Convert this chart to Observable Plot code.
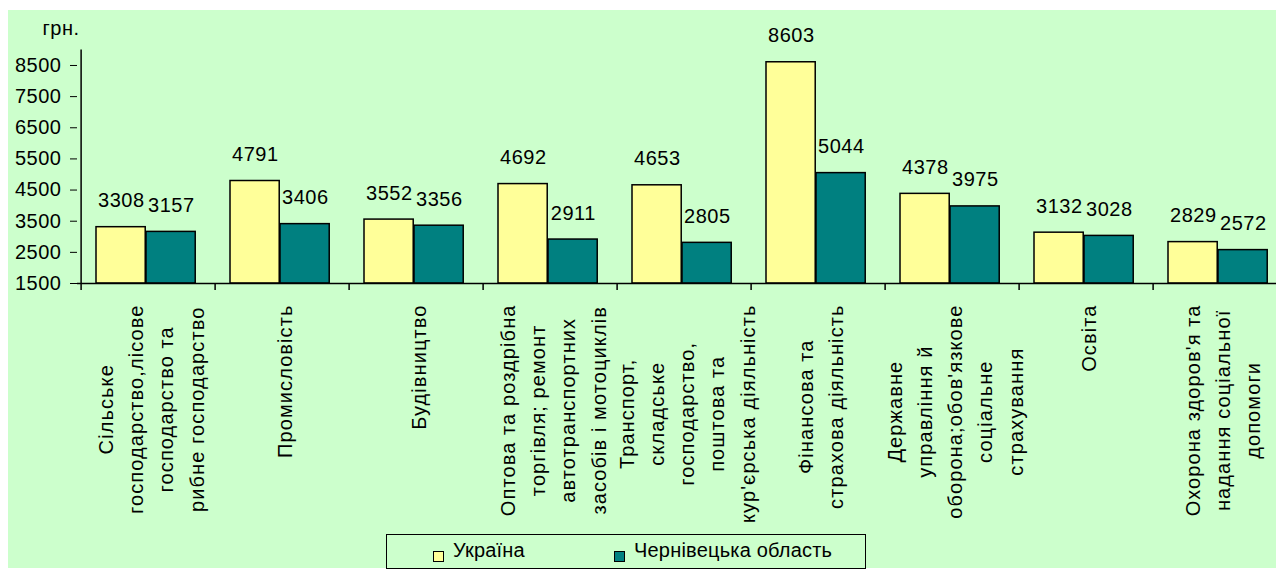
<!DOCTYPE html>
<html>
<head>
<meta charset="utf-8">
<script src="https://cdn.jsdelivr.net/npm/d3@7"></script>
<script src="https://cdn.jsdelivr.net/npm/@observablehq/plot@0.6"></script>
<style>
  html, body { margin: 0; padding: 0; background: #ffffff; }
  body { width: 1276px; height: 572px; overflow: hidden; position: relative; font-family: "Liberation Sans", Arial, sans-serif; }
  #bg { position: absolute; left: 8px; top: 10px; width: 1268px; height: 558px; background: #CCFFCC; }
  #chart { position: absolute; left: 0; top: 0; }
  #chart text { letter-spacing: 0.5px; }
  #chart text[transform*="rotate"] { letter-spacing: 1.1px; }
  #legend { position: absolute; left: 386px; top: 534px; width: 478px; height: 33px; border: 1.5px solid #000; background: #CCFFCC; }
  .sw { position: absolute; top: 16px; width: 9px; height: 9px; border: 1.5px solid #000; }
  .lt { position: absolute; top: 5px; font-size: 20px; line-height: 20px; color: #000; white-space: nowrap; letter-spacing: 0.2px; }
</style>
</head>
<body>
<div id="bg"></div>
<div id="chart"></div>
<div id="legend"></div>
<script>
// ---- data ----
const categories = [
  "Сільське господарство", "Промисловість", "Будівництво", "Торгівля",
  "Транспорт", "Фінанси", "Державне управління", "Освіта", "Охорона здоров'я"
];
const categoryLabels = [
  ["Сільське", "господарство,лісове", "господарство та", "рибне господарство"],
  ["Промисловість"],
  ["Будівництво"],
  ["Оптова та роздрібна", "торгівля; ремонт", "автотранспортних", "засобів і мотоциклів"],
  ["Транспорт,", "складське", "господарство,", "поштова та", "кур'єрська діяльність"],
  ["Фінансова та", "страхова діяльність"],
  ["Державне", "управління й", "оборона;обов'язкове", "соціальне", "страхування"],
  ["Освіта"],
  ["Охорона здоров'я та", "надання соціальної", "допомоги"]
];
const seriesNames = ["Україна", "Чернівецька область"];
const ukraine    = [3308, 4791, 3552, 4692, 4653, 8603, 4378, 3132, 2829];
const chernivtsi = [3157, 3406, 3356, 2911, 2805, 5044, 3975, 3028, 2572];
const yTicks = [1500, 2500, 3500, 4500, 5500, 6500, 7500, 8500];
const yDomain = [1500, 9000];
const unitLabel = "грн.";
const colors = ["#FFFF99", "#008080"];

// ---- table ----
const rows = categories.map((c, i) => ({category: c, ua: ukraine[i], cv: chernivtsi[i], label: categoryLabels[i]}));

// ---- layout ----
const W = 1276, H = 530;
const xStart = 77, xEnd = 1290;
const bw = (xEnd - xStart) / categories.length;
const axisY = 283;
const FONT = "20px 'Liberation Sans', Arial, sans-serif";
const LS = 1.1;

const ctx = document.createElement("canvas").getContext("2d");
ctx.font = FONT;
const maxLen = lines => Math.max(...lines.map(s => ctx.measureText(s).width + LS * s.length));

const labelMarks = rows.map(r => Plot.text([r], {
  x: "category",
  frameAnchor: "bottom",
  text: d => d.label.join("\n"),
  rotate: -90,
  textAnchor: "middle",
  lineAnchor: "middle",
  lineHeight: 1.515,
  fontSize: 20,
  fill: "#000",
  dy: 21 + maxLen(r.label) / 2
}));

const plot = Plot.plot({
  width: W,
  height: H,
  marginLeft: xStart,
  marginRight: 0,
  marginTop: 49.4,
  marginBottom: H - axisY,
  style: {background: "transparent", fontFamily: "'Liberation Sans', Arial, sans-serif", fontSize: "20px", color: "#000", overflow: "visible"},
  x: {domain: categories, range: [xStart, xEnd], padding: 0, axis: null},
  y: {domain: yDomain, ticks: yTicks, tickSize: 7, tickPadding: 9, tickFormat: d => String(d), label: null},
  marks: [
    Plot.barY(rows, {x: "category", y1: yDomain[0], y2: "ua", fill: colors[0], stroke: "#000", strokeWidth: 1.5, insetLeft: 15, insetRight: bw - 65}),
    Plot.barY(rows, {x: "category", y1: yDomain[0], y2: "cv", fill: colors[1], stroke: "#000", strokeWidth: 1.5, insetLeft: 65, insetRight: bw - 115}),
    Plot.ruleY([yDomain[0]], {stroke: "#000", strokeWidth: 1.5}),
    Plot.ruleX([categories[0]], {x: d => d, dx: -bw / 2, y1: yDomain[0], y2: yDomain[1], stroke: "#000", strokeWidth: 1.5}),
    Plot.tickX(categories, {x: d => d, dx: -bw / 2, insetTop: axisY - 49.4, insetBottom: -7, stroke: "#000", strokeWidth: 1.5}),
    Plot.text(rows, {x: "category", y: "ua", text: d => String(d.ua), dx: -27.2, dy: -20, lineAnchor: "bottom", fontSize: 20, fill: "#000"}),
    Plot.text(rows, {x: "category", y: "cv", text: d => String(d.cv), dx: 22.8, dy: -20, lineAnchor: "bottom", fontSize: 20, fill: "#000"}),
    Plot.text([unitLabel], {frameAnchor: "top-left", text: d => d, textAnchor: "end", dx: 2, dy: -14.5, lineAnchor: "bottom", fontSize: 20, fill: "#000"}),
    ...labelMarks
  ]
});
document.getElementById("chart").appendChild(plot);

// ---- legend ----
const legend = document.getElementById("legend");
const legendPos = [{sw: 46, tx: 66}, {sw: 227, tx: 247}];
seriesNames.forEach((name, i) => {
  const sw = document.createElement("div");
  sw.className = "sw";
  sw.style.left = legendPos[i].sw + "px";
  sw.style.background = colors[i];
  legend.appendChild(sw);
  const t = document.createElement("div");
  t.className = "lt";
  t.style.left = legendPos[i].tx + "px";
  t.textContent = name;
  legend.appendChild(t);
});
</script>
</body>
</html>
